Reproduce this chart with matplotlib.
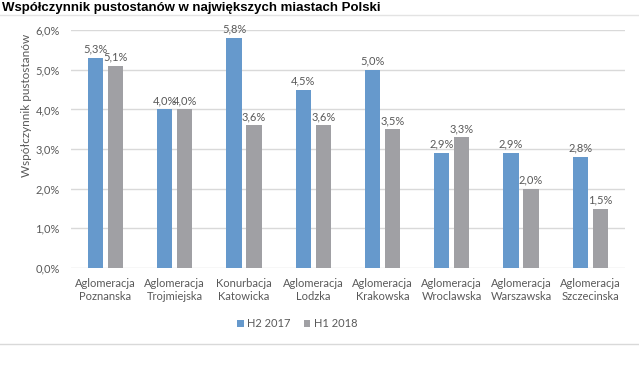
import matplotlib.pyplot as plt
import numpy as np

# Dane
miasta = ['Aglomeracja\nPoznanska', 'Aglomeracja\nTrojmiejska', 'Konurbacja\nKatowicka',
          'Aglomeracja\nLodzka', 'Aglomeracja\nKrakowska', 'Aglomeracja\nWroclawska',
          'Aglomeracja\nWarszawska', 'Aglomeracja\nSzczecinska']
h2_2017 = [5.3, 4.0, 5.8, 4.5, 5.0, 2.9, 2.9, 2.8]
h1_2018 = [5.1, 4.0, 3.6, 3.6, 3.5, 3.3, 2.0, 1.5]
yticks = [0, 1, 2, 3, 4, 5, 6]

plt.rcParams['font.family'] = ['Lato', 'DejaVu Sans']
szary = '#595959'

fig = plt.figure(figsize=(6.39, 3.77), dpi=100)
ax = fig.add_axes([0.111, 0.289, 0.867, 0.631])

x = np.arange(len(miasta))
w = 0.22
b1 = ax.bar(x - 0.145, h2_2017, w, color='#6699CC', label='H2 2017', zorder=3)
b2 = ax.bar(x + 0.145, h1_2018, w, color='#A0A0A4', label='H1 2018', zorder=3)

for bars, vals in ((b1, h2_2017), (b2, h1_2018)):
    for r, v in zip(bars, vals):
        ax.text(r.get_x() + r.get_width() / 2, v + 0.08, f'{v:.1f}%'.replace('.', ','),
                ha='center', va='bottom', fontsize=8, color=szary)

ax.set_xlim(-0.5, len(miasta) - 0.5)
ax.set_ylim(0, 6)
ax.set_yticks(yticks)
ax.set_yticklabels([f'{t:.1f}%'.replace('.', ',') for t in yticks], color=szary, fontsize=8)
ax.set_xticks(x)
ax.set_xticklabels(miasta, color=szary, fontsize=8)
ax.tick_params(axis='y', length=0, pad=8)
ax.tick_params(axis='x', length=0, pad=7)
ax.grid(axis='y', color='#D9D9D9', linewidth=1, zorder=0)
for s in ax.spines.values():
    s.set_visible(False)

fig.text(27 / 639, 1 - 105 / 377, 'Współczynnik pustostanów', rotation=90,
         ha='center', va='center', color=szary, fontsize=8.5)
fig.text(0.003, 0.995, 'Współczynnik pustostanów w największych miastach Polski',
         fontsize=9.5, fontweight='bold', family='Liberation Sans', va='top')
fig.legend(handles=[b1, b2], loc='center', bbox_to_anchor=(0.465, 0.141), ncol=2,
           frameon=False, fontsize=8, labelcolor=szary, handlelength=0.6,
           handleheight=0.6, handletextpad=0.3, columnspacing=1.2)
fig.add_artist(plt.Line2D([0, 1], [0.960, 0.960], color='#E3E3E3', linewidth=1))
fig.add_artist(plt.Line2D([0, 1], [0.088, 0.088], color='#D9D9D9', linewidth=1))

fig.savefig('out.png', dpi=100, facecolor='white')
